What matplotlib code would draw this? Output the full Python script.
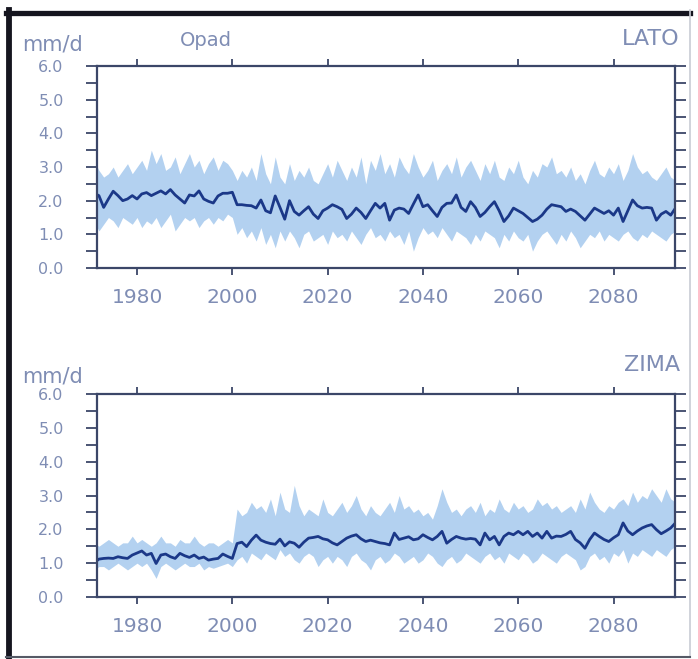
import numpy as np
import matplotlib
matplotlib.use("Agg")
import matplotlib.pyplot as plt
from matplotlib.lines import Line2D

years = list(range(1971, 2094))

lato_mean = [
    2.22, 2.15, 1.80, 2.05, 2.28, 2.15, 2.00, 2.05, 2.15, 2.05,
    2.20, 2.24, 2.15, 2.22, 2.29, 2.20, 2.33, 2.17, 2.05, 1.93,
    2.17, 2.14, 2.29, 2.05, 1.98, 1.93, 2.14, 2.22, 2.22, 2.25,
    1.88, 1.88, 1.86, 1.85, 1.78, 2.02, 1.70, 1.64, 2.14, 1.80,
    1.45, 2.00, 1.68, 1.57, 1.70, 1.82, 1.60, 1.47, 1.70, 1.78,
    1.88, 1.82, 1.74, 1.47, 1.60, 1.78, 1.65, 1.47, 1.70, 1.92,
    1.78, 1.92, 1.42, 1.72, 1.78, 1.75, 1.62, 1.90, 2.17, 1.82,
    1.88, 1.70, 1.53, 1.80, 1.92, 1.93, 2.17, 1.80, 1.68, 1.97,
    1.80, 1.53, 1.65, 1.82, 1.97, 1.70, 1.38, 1.55, 1.78, 1.70,
    1.62, 1.50, 1.38, 1.45, 1.57, 1.75, 1.88, 1.85, 1.82, 1.68,
    1.75, 1.68, 1.55, 1.42, 1.60, 1.78, 1.70, 1.62, 1.70, 1.57,
    1.78, 1.38, 1.70, 2.02, 1.85, 1.78, 1.80, 1.78, 1.42, 1.60,
    1.68, 1.57, 1.78,
]
lato_upper = [
    3.2, 2.9, 2.7, 2.8, 3.0, 2.7, 2.9, 3.1, 2.8, 3.0,
    3.2, 2.9, 3.5, 3.1, 3.4, 2.9, 3.0, 3.3, 2.8, 3.1,
    3.4, 3.0, 3.2, 2.8, 3.1, 3.3, 2.9, 3.2, 3.1, 2.9,
    2.6, 2.9, 2.7, 3.0, 2.6, 3.4, 2.8, 2.5, 3.3, 2.7,
    2.5, 3.1, 2.6, 2.9, 2.7, 3.0, 2.6, 2.5, 2.8, 3.1,
    2.7, 3.2, 2.9, 2.6, 3.0, 2.7, 3.3, 2.5, 3.2, 2.9,
    3.4, 2.8, 3.1, 2.7, 3.3, 3.0, 2.8, 3.4, 3.0, 2.7,
    2.9, 3.2, 2.6, 2.9, 3.1, 2.8, 3.3, 2.7, 3.0, 3.2,
    2.9, 2.6, 3.1, 2.8, 3.2, 2.7, 2.6, 3.0, 2.8, 3.2,
    2.7, 2.5, 2.9, 2.7, 3.1, 3.0, 3.3, 2.8, 2.9, 2.7,
    3.0, 2.6, 2.8, 2.5, 2.9, 3.2, 2.8, 2.7, 3.0, 2.8,
    3.1, 2.6, 2.9, 3.4, 3.0, 2.8, 2.9, 2.7, 2.6, 2.8,
    3.0, 2.7, 2.6,
]
lato_lower = [
    1.4, 1.1, 1.3, 1.5, 1.4, 1.2, 1.5, 1.4, 1.3, 1.5,
    1.2, 1.4, 1.3, 1.5, 1.2, 1.4, 1.6, 1.1, 1.3, 1.5,
    1.4, 1.5, 1.2, 1.4, 1.5, 1.3, 1.5, 1.4, 1.6, 1.5,
    1.0, 1.2, 0.9, 1.1, 0.8, 1.2, 0.7, 1.0, 0.6, 1.1,
    0.8, 1.1, 0.9, 0.6, 1.0, 1.1, 0.8, 0.9, 1.0, 0.7,
    1.1, 0.9, 1.0, 0.8, 1.1, 0.9, 0.7, 1.0, 1.2, 0.9,
    1.0, 0.8, 1.1, 0.9, 1.0, 0.7, 1.1, 0.5, 0.9, 1.2,
    1.0, 1.1, 0.9, 1.2, 1.0, 0.8, 1.1, 1.0, 0.9, 0.7,
    1.0, 0.8, 1.1, 1.0, 0.9, 0.6, 1.0, 0.8, 1.1, 0.9,
    0.8, 1.0, 0.5, 0.8, 1.0, 1.1, 0.9, 0.7, 1.0, 0.8,
    1.1, 0.9, 0.6, 0.8, 1.0, 0.9, 1.1, 0.8, 1.0, 0.9,
    0.8, 1.0, 1.1, 0.9, 0.8, 1.0, 0.9, 1.1, 1.0, 0.9,
    0.8, 1.0, 1.1,
]

zima_mean = [
    1.01, 1.12, 1.14, 1.15, 1.14, 1.19, 1.16, 1.14, 1.24, 1.30,
    1.36, 1.24, 1.29, 0.99, 1.24, 1.27, 1.19, 1.14, 1.29, 1.22,
    1.17, 1.24, 1.14, 1.18, 1.09, 1.12, 1.14, 1.27, 1.20, 1.14,
    1.58, 1.62, 1.49, 1.68, 1.83, 1.68, 1.62, 1.58, 1.56, 1.71,
    1.51, 1.63, 1.59, 1.47, 1.62, 1.74, 1.76, 1.79, 1.72, 1.69,
    1.60, 1.54, 1.64, 1.74, 1.80, 1.84, 1.72, 1.64, 1.68, 1.64,
    1.60, 1.58, 1.54, 1.89, 1.70, 1.74, 1.78, 1.69, 1.72, 1.84,
    1.76, 1.69, 1.79, 1.94, 1.59, 1.70, 1.79, 1.74, 1.71, 1.73,
    1.71, 1.54, 1.89, 1.69, 1.79, 1.54, 1.79, 1.89, 1.84, 1.94,
    1.84, 1.94, 1.79, 1.89, 1.74, 1.94, 1.74, 1.80, 1.79, 1.85,
    1.94, 1.70, 1.60, 1.44, 1.70, 1.89, 1.79, 1.70, 1.64, 1.75,
    1.84, 2.19, 1.95, 1.84, 1.95, 2.04, 2.10, 2.14, 1.99, 1.87,
    1.95, 2.04, 2.19,
]
zima_upper = [
    1.6, 1.5, 1.6, 1.7, 1.6, 1.5, 1.6, 1.6, 1.8, 1.6,
    1.7, 1.6, 1.5, 1.6, 1.8, 1.6, 1.6, 1.5, 1.7, 1.6,
    1.6, 1.8, 1.6, 1.5, 1.6, 1.6, 1.5, 1.6, 1.7, 1.6,
    2.6, 2.4, 2.5, 2.8, 2.6, 2.7, 2.5, 2.9, 2.4, 3.1,
    2.6, 2.5, 3.3, 2.7, 2.4, 2.6, 2.5, 2.4, 2.9, 2.5,
    2.4, 2.6, 2.8, 2.5, 2.7, 3.0, 2.6, 2.4, 2.7, 2.5,
    2.4, 2.6, 2.8, 2.5, 3.0, 2.6, 2.7, 2.5, 2.6, 2.4,
    2.5, 2.3, 2.7, 3.2, 2.8, 2.5, 2.6, 2.4, 2.6, 2.7,
    2.5, 2.8, 2.4, 2.6, 2.5, 2.9, 2.6, 2.5, 2.8, 2.6,
    2.7, 2.5, 2.6, 2.9, 2.7, 2.8, 2.6, 2.7, 2.5, 2.6,
    2.7, 2.5, 2.9, 2.6, 3.1, 2.8, 2.6, 2.5, 2.7, 2.6,
    2.8, 2.9, 2.7, 3.1, 2.8, 3.0, 2.9, 3.2, 3.0, 2.8,
    3.2, 2.9, 2.8,
]
zima_lower = [
    0.8, 0.9, 0.9, 0.8, 0.9, 1.0, 0.9, 0.8, 0.9, 1.0,
    0.9, 1.0, 0.8, 0.55, 0.9, 1.0, 0.9, 0.8, 0.9, 1.0,
    0.9, 0.9, 1.0, 0.8, 0.9, 0.85, 0.9, 0.95, 1.0, 0.9,
    1.1, 1.2, 1.0, 1.3, 1.2, 1.1, 1.3, 1.2, 1.1, 1.4,
    1.2, 1.3, 1.1, 1.0, 1.2, 1.3, 1.2, 0.9, 1.1, 1.2,
    1.0, 1.2, 1.1, 0.9, 1.2, 1.3, 1.1, 1.0, 0.8, 1.1,
    1.2, 1.0, 1.1, 1.3, 1.2, 1.0, 1.1, 1.2, 1.0, 1.1,
    1.3, 1.2, 1.0, 0.9, 1.1, 1.2, 1.0, 1.1, 1.3, 1.2,
    1.1, 1.0, 1.2, 1.3, 1.1, 1.2, 1.0, 1.3, 1.2, 1.1,
    1.3, 1.2, 1.0, 1.1, 1.3, 1.2, 1.1, 1.0, 1.2, 1.3,
    1.2, 1.1, 0.8, 0.9, 1.2, 1.3, 1.1, 1.2, 1.0, 1.3,
    1.2, 1.4, 1.0, 1.3, 1.2, 1.4, 1.3, 1.2, 1.4, 1.3,
    1.2, 1.4, 1.5,
]

panel_titles = ["LATO", "ZIMA"]
unit_label = "mm/d"
var_label = "Opad"
xticks = [1980, 2000, 2020, 2040, 2060, 2080]
yticks = [0.0, 1.0, 2.0, 3.0, 4.0, 5.0, 6.0]

plt.rcParams["font.family"] = ["DejaVu Sans"]
text_color = "#7f8db4"
spine_color = "#3b4668"
band_color = "#b3d1f0"
line_color = "#1b3888"

W, H = 698, 659
fig = plt.figure(figsize=(W / 100, H / 100), dpi=100)
fig.patch.set_facecolor("white")

def fx(px):
    return px / W

def fy(py):
    return 1 - py / H

panels = [
    (lato_mean, lato_upper, lato_lower, 66, 268, 298, 45, 39, panel_titles[0]),
    (zima_mean, zima_upper, zima_lower, 394, 597, 626, 377, 365, panel_titles[1]),
]

for i, (mean, up, lo, top, bot, xlab_y, unit_y, title_y, title) in enumerate(panels):
    ax = fig.add_axes([fx(97), fy(bot), fx(675 - 97), (bot - top) / H])
    ax.fill_between(years, lo, up, color=band_color, lw=0)
    ax.plot(years, mean, color=line_color, lw=2.0)
    ax.set_xlim(1971.6, 2092.9)
    ax.set_ylim(0, 6)
    ax.set_yticks(yticks)
    ax.set_yticklabels([f"{v:.1f}" for v in yticks])
    ax.set_yticks(np.arange(0.5, 6.0, 1.0), minor=True)
    ax.set_xticks(xticks)
    ax.set_xticklabels([])
    for s in ax.spines.values():
        s.set_color(spine_color)
        s.set_linewidth(1.6)
    ax.tick_params(axis="y", which="both", direction="out", length=8, width=1.3,
                   color=spine_color, left=True, right=True, labelright=False,
                   labelsize=11.5, labelcolor=text_color, pad=16)
    ax.tick_params(axis="x", which="both", direction="out", length=5, width=1.3,
                   color=spine_color, top=True, bottom=True)
    for yr in xticks:
        xd = ax.transData.transform((yr, 0))[0]
        fig.text(xd / fig.dpi / fig.get_figwidth(), fy(xlab_y), str(yr),
                 ha="center", va="center", fontsize=14.5, color=text_color)
    fig.text(fx(22), fy(unit_y), unit_label, ha="left", va="center",
             fontsize=15, color=text_color)
    fig.text(fx(680), fy(title_y), title, ha="right", va="center",
             fontsize=16, color=text_color)
    if i == 0:
        fig.text(fx(180), fy(40), var_label, ha="left", va="center",
                 fontsize=14, color=text_color)

# outer frame
fig.add_artist(Line2D([fx(6), fx(690)], [fy(12.5), fy(12.5)], color="#15151f", lw=3.8))
fig.add_artist(Line2D([fx(9), fx(9)], [fy(10), fy(658)], color="#15151f", lw=4.2))
fig.add_artist(Line2D([fx(690), fx(690)], [fy(10), fy(657)], color="#c8ccd4", lw=1.2))
fig.add_artist(Line2D([fx(6), fx(690)], [fy(657), fy(657)], color="#555a66", lw=1.5))

fig.savefig("out.png", dpi=100)
